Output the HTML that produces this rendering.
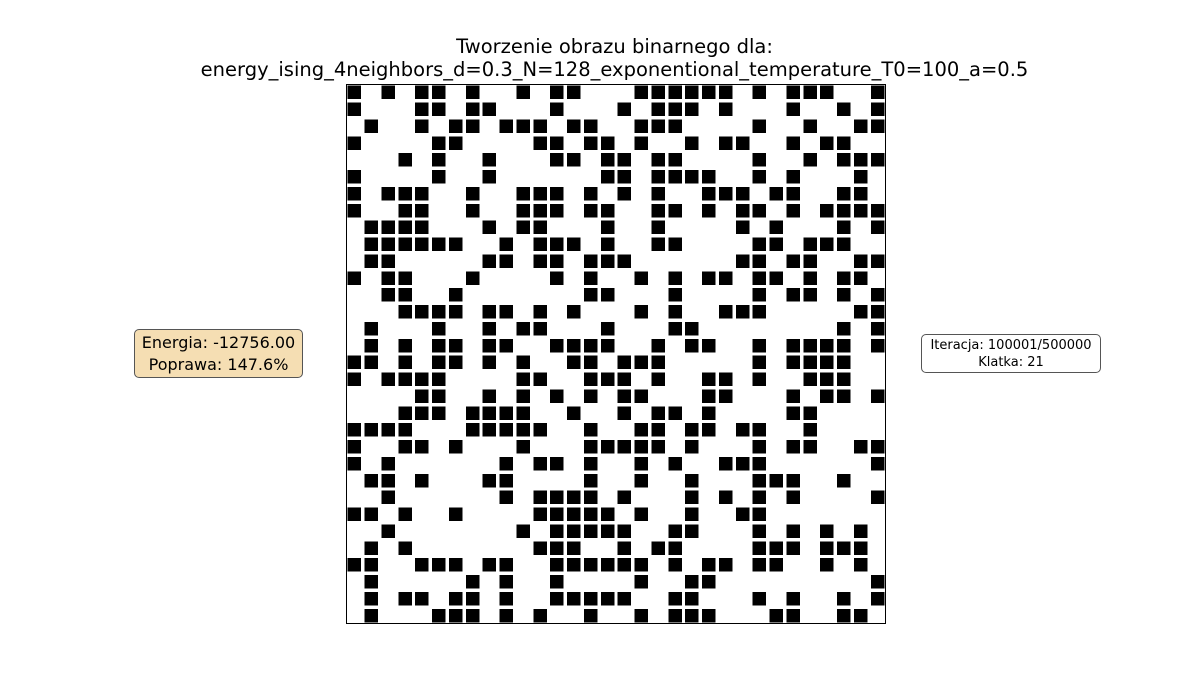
<!DOCTYPE html>
<html><head><meta charset="utf-8">
<style>
body{margin:0;width:1200px;height:700px;background:#fff;position:relative;overflow:hidden;font-family:"DejaVu Sans","Liberation Sans",sans-serif;}
.title{position:absolute;left:0;width:1229px;text-align:center;font-size:19.5px;color:#000;}
.box{position:absolute;border:1.3px solid #555;border-radius:5px;text-align:center;box-sizing:border-box;}
</style></head>
<body>
<div class="title" style="top:35px;">Tworzenie obrazu binarnego dla:</div>
<div class="title" style="top:58px;">energy_ising_4neighbors_d=0.3_N=128_exponentional_temperature_T0=100_a=0.5</div>
<div class="box" style="left:134px;top:329px;width:169px;height:49px;background:#f5deb3;font-size:16px;line-height:22px;padding-top:2px;">Energia: -12756.00<br>Poprawa: 147.6%</div>
<div class="box" style="left:921px;top:334px;width:180px;height:39px;background:#fff;font-size:13px;line-height:17px;padding-top:2px;">Iteracja: 100001/500000<br>Klatka: 21</div>
<svg id="img" style="position:absolute;left:346px;top:84px;" width="540" height="540" viewBox="0 0 32 32" shape-rendering="crispEdges">
<rect x="0" y="0" width="32" height="32" fill="#fff"/>
<g id="cells"></g>
<rect x="0.03" y="0.03" width="31.94" height="31.94" fill="none" stroke="#000" stroke-width="0.06"/>
</svg>
<script>
const q1=["#.#.##.#..#.##..","#...##.##...#...",".#..#.##.###.##.","#....##....##.##","...#.#..#...##.#","#....#..#......#","#.###..#..###.#.","#..##..#..###.##",".####...#.##...#",".######..#.###.#",".##.....##.##.##","#.##...#....#.#.","..##..#.......##","...####.##.#.#..",".#...#..#.##...#",".#.#.##.##..####"];
const q2=[".######.#.###..#","#.###.#...#..#.#",".###....#..#..##",".#..#.##..#.##..","#.##....#..#.###","#.####..#.#...#.","#.#..###.##..##.","..##.#.##.#.####","..#....#.#...#.#","..##....##.###..","#......##.##..##",".#.#.##.##.#.##.","...#....#.##.#.#",".#.#..###.....##","...##........#.#","..#.##..#.####.#"];
const q3=["##.#.##.#.#..##.","#.####....##..##","....##..#.#.#.#.","...###.####..#..","####...#####..#.","#..##.#...#...##","#.#......#.##.#.",".##.#...##....#.","..#......#.####.","##.#..#....#####","..#.......#.####",".#.#.......###..","##..###.##..####",".#.....#.#..#...",".#.##.##.#..####",".#...###.#.#..#."];
const q4=["###.....#.####..","#.#..##.#..###..","##...##...#.##.#","#.##.#....##....",".##.##.##..#....","###.#...#.##..##",".#.#..###......#",".#..#...###..#..","#...#.#.#.#....#",".#..#..##.......","#..##...#.#.#.#.","#.##....###.###.","##.#.##.##..#.#.",".#..##.........#","#..##...#.#..#.#",".#.###...##..##."];
const rows=[];
for(let r=0;r<16;r++)rows.push(q1[r]+q2[r]);
for(let r=0;r<16;r++)rows.push(q3[r]+q4[r]);
const g=document.getElementById('cells');
const NS='http://www.w3.org/2000/svg';
const S=0.8, off=(1-S)/2;
rows.forEach((row,r)=>{for(let c=0;c<row.length;c++){if(row[c]==='#'){const el=document.createElementNS(NS,'rect');


el.setAttribute('x',c+off);el.setAttribute('y',r+off);el.setAttribute('width',S);el.setAttribute('height',S);el.setAttribute('fill','#000');g.appendChild(el);}}});
</script>
</body></html>
